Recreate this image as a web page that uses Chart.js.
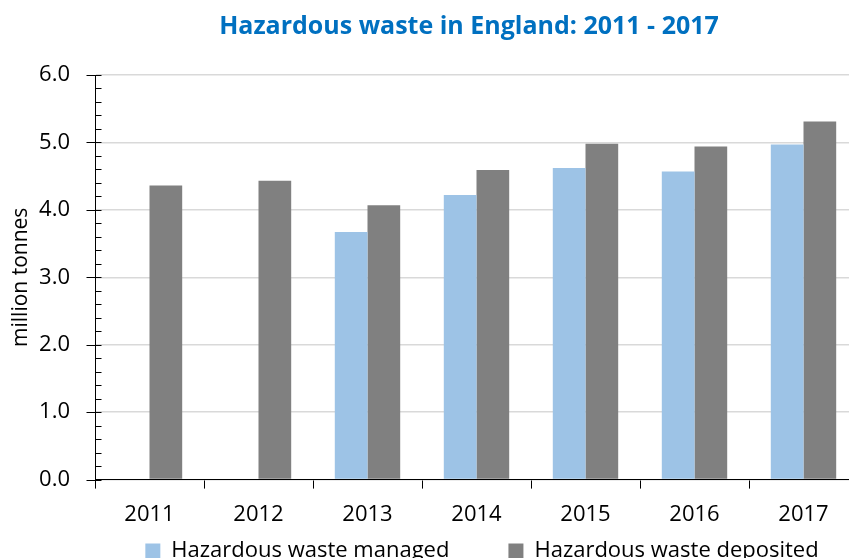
<!DOCTYPE html>
<html>
<head>
<meta charset="utf-8">
<script src="https://cdn.jsdelivr.net/npm/chart.js@4.4.1/dist/chart.umd.min.js"></script>
<style>
  html, body { margin: 0; padding: 0; overflow: hidden; background: #fff; }
  canvas { display: block; }
</style>
</head>
<body>
<canvas id="chart" width="862" height="632"></canvas>
<script>
// data
var years = ['2011', '2012', '2013', '2014', '2015', '2016', '2017'];
var managed = [null, null, 3.67, 4.22, 4.62, 4.57, 4.97];
var deposited = [4.36, 4.43, 4.07, 4.59, 4.98, 4.94, 5.31];
var yTicks = [0, 1, 2, 3, 4, 5, 6];

var FONT = "'Open Sans', sans-serif";

// excel style ticks on the value axis: major ticks cross, minor ticks inside
var axisTicks = {
    id: 'axisTicks',
    afterDraw: function(chart) {
        var ctx = chart.ctx;
        var y = chart.scales.y;
        var x0 = Math.round(chart.chartArea.left) + 0.5;
        ctx.save();
        ctx.strokeStyle = '#000';
        ctx.lineWidth = 1;
        ctx.beginPath();
        for (var i = 0; i <= 30; i++) {
            var py = Math.round(y.getPixelForValue(i / 5)) + 0.5;
            ctx.moveTo(i % 5 === 0 ? x0 - 9 : x0, py);
            ctx.lineTo(x0 + 6, py);
        }
        ctx.stroke();
        ctx.restore();
    }
};

// nudge title and legend to where the original sits
var nudge = {
    id: 'nudge',
    afterLayout: function(chart) {
        chart.titleBlock.left += 36;
        chart.titleBlock.right += 36;
        chart.legend.left += 49;
        chart.legend.right += 49;
        chart.legend.top -= 60;
        chart.legend.bottom -= 60;
    }
};

new Chart(document.getElementById('chart'), {
    type: 'bar',
    data: {
        labels: years,
        datasets: [
            {
                label: 'Hazardous waste managed',
                data: managed,
                backgroundColor: '#9dc3e6',
                borderWidth: 0,
                categoryPercentage: 0.6,
                barPercentage: 1.0
            },
            {
                label: 'Hazardous waste deposited',
                data: deposited,
                backgroundColor: '#808080',
                borderWidth: 0,
                categoryPercentage: 0.6,
                barPercentage: 1.0
            }
        ]
    },
    options: {
        responsive: false,
        animation: false,
        layout: { padding: { left: 8, right: 4, top: 0, bottom: 0 } },
        plugins: {
            title: {
                display: true,
                text: 'Hazardous waste in England: 2011 - 2017',
                color: '#0070c0',
                font: { family: FONT, size: 25, weight: 'bold' },
                padding: { top: 12, bottom: 33 }
            },
            legend: {
                position: 'bottom',
                labels: {
                    color: '#000',
                    font: { family: FONT, size: 22 },
                    boxWidth: 15,
                    boxHeight: 15,
                    padding: 59
                }
            },
            tooltip: { enabled: false }
        },
        scales: {
            x: {
                border: { color: '#000', width: 1 },
                grid: {
                    offset: true,
                    drawOnChartArea: false,
                    color: '#000',
                    tickLength: 9
                },
                ticks: {
                    color: '#000',
                    font: { family: FONT, size: 22 },
                    padding: 13
                }
            },
            y: {
                min: 0,
                max: 6,
                afterBuildTicks: function(scale) {
                    scale.ticks = yTicks.map(function(v) { return { value: v }; });
                },
                afterFit: function(scale) {
                    scale.width = 87;
                },
                border: { color: '#000', width: 1 },
                grid: { color: '#d9d9d9', drawTicks: false, lineWidth: 1.5 },
                ticks: {
                    color: '#000',
                    font: { family: FONT, size: 22 },
                    padding: 25,
                    callback: function(v) { return v.toFixed(1); }
                },
                title: {
                    display: true,
                    text: 'million tonnes',
                    color: '#000',
                    font: { family: FONT, size: 21 },
                    padding: { top: 0, bottom: 5 }
                }
            }
        }
    },
    plugins: [axisTicks, nudge]
});
</script>
</body>
</html>
